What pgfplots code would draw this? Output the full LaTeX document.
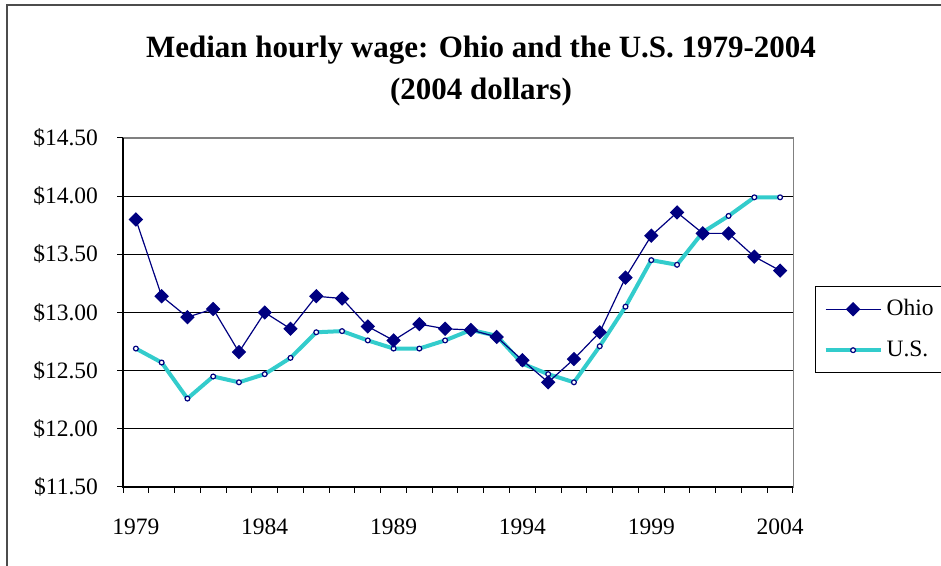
\documentclass[border=0pt]{standalone}
\usepackage{pgfplots}
\pgfplotsset{compat=1.18}
\usepackage{fontspec}
\setmainfont{Liberation Serif}
\definecolor{ohio}{RGB}{0,0,128}
\definecolor{us}{RGB}{51,204,204}
\begin{document}
\begin{tikzpicture}
\path[use as bounding box] (0,0) rectangle (470.5pt,283pt);
\draw[line width=1pt, black!70] (3.5pt,-5pt) -- (3.5pt,280.5pt) -- (480pt,280.5pt);
\node[font=\fontsize{15.5}{18}\selectfont\bfseries] at (240.5pt,258pt) {Median hourly wage: Ohio and the U.S. 1979-2004};
\node[font=\fontsize{15.5}{18}\selectfont\bfseries] at (240.5pt,237pt) {(2004 dollars)};
\begin{axis}[
  name=ax, at={(61.5pt,39.5pt)}, anchor=south west,
  scale only axis, width=335pt, height=174.5pt,
  xmin=1978.5, xmax=2004.5, ymin=11.5, ymax=14.5,
  xtick={1978.5,1979.5,...,2004.5}, xticklabels={},
  extra x ticks={1979,1984,1989,1994,1999,2004},
  extra x tick labels={1979,1984,1989,1994,1999,2004},
  extra x tick style={major tick length=0pt, grid=none},
  ytick={11.5,12,12.5,13,13.5,14,14.5},
  ymajorgrids, grid style={black, line width=0.5pt},
  major tick length=3pt, tick align=outside,
  xtick pos=left, ytick pos=left,
  axis line style={gray},
  tick style={black, line width=0.5pt},
  yticklabel={\$\pgfmathprintnumber[fixed,fixed zerofill,precision=2]{\tick}},
  /pgf/number format/assume math mode=true,
  /pgf/number format/1000 sep={},
  ticklabel style={font=\fontsize{11.75}{14}\selectfont},
  yticklabel style={xshift=-6pt},
  xticklabel style={yshift=-12.5pt},
  reverse legend,
  legend style={at={(1.0328,0.5759)}, anchor=north west, draw=black, line width=0.6pt,
    font=\fontsize{11.75}{14}\selectfont, row sep=7pt, inner xsep=4pt, inner ysep=4.5pt},
  legend cell align=left,
  legend image code/.code={\draw[mark repeat=2,mark phase=2,#1] plot coordinates {(0pt,0pt) (13.75pt,0pt) (27.5pt,0pt)};},
]
\addplot[us, line width=2pt, mark=*, mark size=1.2pt, mark options={draw=ohio, fill=white, line width=0.6pt}] coordinates {
(1979,12.69) (1980,12.57) (1981,12.26) (1982,12.45) (1983,12.40) (1984,12.47) (1985,12.61) (1986,12.83) (1987,12.84) (1988,12.76) (1989,12.69) (1990,12.69) (1991,12.76) (1992,12.85) (1993,12.80) (1994,12.56) (1995,12.47) (1996,12.40) (1997,12.71) (1998,13.05) (1999,13.45) (2000,13.41) (2001,13.69) (2002,13.83) (2003,13.99) (2004,13.99)};
\addlegendentry{\makebox[36pt][l]{U.S.}}
\addplot[ohio, line width=0.6pt, mark=square*, mark size=2.25pt, mark options={rotate=45, fill=ohio}] coordinates {
(1979,13.80) (1980,13.14) (1981,12.96) (1982,13.03) (1983,12.66) (1984,13.00) (1985,12.86) (1986,13.14) (1987,13.12) (1988,12.88) (1989,12.76) (1990,12.90) (1991,12.86) (1992,12.85) (1993,12.79) (1994,12.59) (1995,12.40) (1996,12.60) (1997,12.83) (1998,13.30) (1999,13.66) (2000,13.86) (2001,13.68) (2002,13.68) (2003,13.48) (2004,13.36)};
\addlegendentry{\makebox[36pt][l]{Ohio}}
\end{axis}
\draw[gray, line width=0.5pt] (ax.north west) -- (ax.north east) -- (ax.south east);
\draw[black, line width=0.6pt] (ax.north west) -- (ax.south west) -- (ax.south east);
\end{tikzpicture}
\end{document}
